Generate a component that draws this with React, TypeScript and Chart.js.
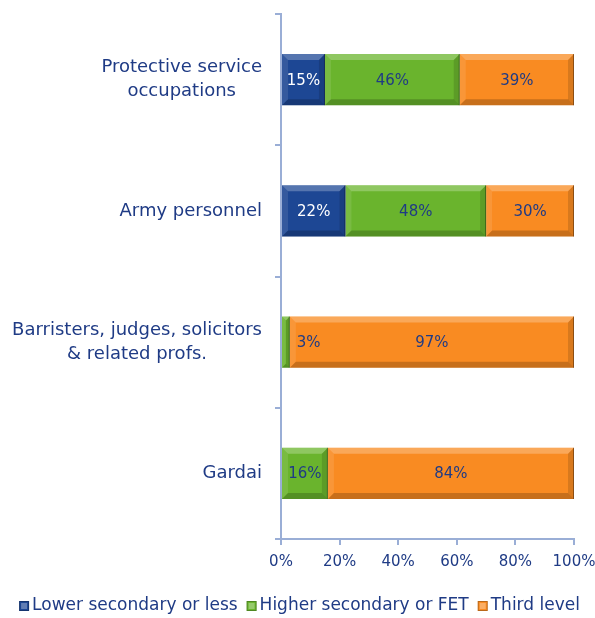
import React, { useEffect, useRef } from "react";
import { Chart, registerables } from "chart.js";

Chart.register(...registerables);

// ---- data ----
const categories: string[][] = [
  ["Protective service", "occupations"],
  ["Army personnel"],
  ["Barristers, judges, solicitors", "& related profs."],
  ["Gardai"],
];
const seriesNames = ["Lower secondary or less", "Higher secondary or FET", "Third level"];
const lowerSecondary = [15, 22, 0, 0];
const higherSecondary = [46, 48, 3, 16];
const thirdLevel = [39, 30, 97, 84];
const xTickValues = [0, 20, 40, 60, 80, 100];

// ---- style ----
const FONT = "'DejaVu Sans', sans-serif";
const NAVY = "#1F3B85";
const AXIS = "#9AAED6";
const COLORS = ["#1D4794", "#6AB42D", "#F98B22"];
const LABEL_COLORS = ["#FFFFFF", NAVY, NAVY];

function poly(ctx: CanvasRenderingContext2D, pts: number[][], fill: string) {
  ctx.beginPath();
  ctx.moveTo(pts[0][0], pts[0][1]);
  for (let i = 1; i < pts.length; i++) ctx.lineTo(pts[i][0], pts[i][1]);
  ctx.closePath();
  ctx.fillStyle = fill;
  ctx.fill();
}

const customPlugin = {
  id: "custom",
  afterDatasetsDraw(chart: any) {
    const ctx: CanvasRenderingContext2D = chart.ctx;
    // bevels
    chart.data.datasets.forEach((ds: any, di: number) => {
      const meta = chart.getDatasetMeta(di);
      meta.data.forEach((el: any) => {
        const { x, y, base, height } = el.getProps(["x", "y", "base", "height"], true);
        const l = Math.min(x, base), r = Math.max(x, base);
        const w = r - l;
        if (w < 0.5) return;
        const t = y - height / 2, b = y + height / 2;
        const bv = Math.min(6, w / 2, height / 2);
        ctx.save();
        poly(ctx, [[l, t], [r, t], [r - bv, t + bv], [l + bv, t + bv]], "rgba(255,255,255,0.25)");
        poly(ctx, [[l, t], [l + bv, t + bv], [l + bv, b - bv], [l, b]], "rgba(255,255,255,0.1)");
        poly(ctx, [[l, b], [l + bv, b - bv], [r - bv, b - bv], [r, b]], "rgba(0,0,0,0.2)");
        poly(ctx, [[r, t], [r, b], [r - bv, b - bv], [r - bv, t + bv]], "rgba(0,0,0,0.13)");
        ctx.fillStyle = "rgba(0,0,0,0.35)";
        ctx.fillRect(r - 1, t, 1, height);
        ctx.restore();
      });
    });
    // data labels
    ctx.save();
    ctx.font = `15px ${FONT}`;
    ctx.textBaseline = "middle";
    chart.data.datasets.forEach((ds: any, di: number) => {
      const meta = chart.getDatasetMeta(di);
      meta.data.forEach((el: any, i: number) => {
        const v = ds.data[i];
        if (!v) return;
        const { x, y, base } = el.getProps(["x", "y", "base"], true);
        const l = Math.min(x, base), r = Math.max(x, base);
        const txt = `${v}%`;
        const tw = ctx.measureText(txt).width;
        ctx.fillStyle = LABEL_COLORS[di];
        if (r - l < tw + 4) {
          ctx.textAlign = "left";
          ctx.fillStyle = NAVY;
          ctx.fillText(txt, r + 7, y + 1);
        } else {
          ctx.textAlign = "center";
          ctx.fillText(txt, (l + r) / 2, y + 1);
        }
      });
    });
    ctx.restore();
  },
  afterDraw(chart: any) {
    const ctx: CanvasRenderingContext2D = chart.ctx;
    const yScale = chart.scales.y;
    ctx.save();
    ctx.font = `18px ${FONT}`;
    ctx.fillStyle = NAVY;
    ctx.textAlign = "center";
    ctx.textBaseline = "middle";
    categories.forEach((lines, i) => {
      const cy = yScale.getPixelForValue(i);
      const maxW = Math.max(...lines.map((s) => ctx.measureText(s).width));
      const cx = chart.chartArea.left - 19 - maxW / 2;
      const lh = 24;
      lines.forEach((s, j) => ctx.fillText(s, cx, cy + (j - (lines.length - 1) / 2) * lh));
    });
    // legend
    ctx.font = `17px ${FONT}`;
    const gap = 3, box = 10, itemGap = 9;
    const widths = seriesNames.map((s) => box + gap + ctx.measureText(s).width);
    const total = widths.reduce((a, b) => a + b, 0) + itemGap * (widths.length - 1);
    let lx = (chart.width - total) / 2 + 2;
    const ly = 606;
    ctx.textAlign = "left";
    seriesNames.forEach((s, i) => {
      ctx.fillStyle = COLORS[i];
      ctx.fillRect(lx, ly - box / 2, box, box);
      ctx.fillStyle = "rgba(255,255,255,0.3)";
      ctx.fillRect(lx + 2, ly - box / 2 + 2, box - 4, box - 4);
      ctx.strokeStyle = "rgba(0,0,0,0.25)";
      ctx.lineWidth = 1;
      ctx.strokeRect(lx + 0.5, ly - box / 2 + 0.5, box - 1, box - 1);
      ctx.fillStyle = NAVY;
      ctx.fillText(s, lx + box + gap, ly);
      lx += widths[i] + itemGap;
    });
    ctx.restore();
  },
};

export default function App() {
  const ref = useRef<HTMLCanvasElement | null>(null);
  useEffect(() => {
    document.body.style.margin = "0";
    if (!ref.current) return;
    const chart = new Chart(ref.current, {
      type: "bar",
      data: {
        labels: categories.map((c) => c.join(" ")),
        datasets: [lowerSecondary, higherSecondary, thirdLevel].map((d, i) => ({
          label: seriesNames[i],
          data: d,
          backgroundColor: COLORS[i],
          borderWidth: 0,
          barPercentage: 0.39,
          categoryPercentage: 1,
        })),
      },
      options: {
        indexAxis: "y",
        responsive: false,
        animation: false,
        layout: { padding: { left: 275, top: 14, right: 21, bottom: 39 } },
        plugins: { legend: { display: false }, tooltip: { enabled: false } },
        scales: {
          x: {
            stacked: true,
            min: 0,
            max: 100,
            afterBuildTicks: (axis: any) => {
              axis.ticks = xTickValues.map((v) => ({ value: v }));
            },
            afterFit: (axis: any) => {
              axis.paddingLeft = 0;
              axis.paddingRight = 0;
            },
            ticks: {
              callback: (v: any) => `${v}%`,
              color: NAVY,
              font: { size: 15, family: FONT },
              padding: 8,
              maxRotation: 0,
            },
            grid: { drawOnChartArea: false, drawTicks: true, tickLength: 6, color: AXIS, lineWidth: 2 },
            border: { color: AXIS, width: 2 },
          },
          y: {
            stacked: true,
            offset: true,
            ticks: { display: false },
            grid: { offset: true, drawOnChartArea: false, drawTicks: true, tickLength: 6, color: AXIS, lineWidth: 2 },
            border: { color: AXIS, width: 2 },
          },
        },
      },
      plugins: [customPlugin],
    } as any);
    return () => chart.destroy();
  }, []);
  return (
    <div style={{ width: 595, height: 618 }}>
      <canvas ref={ref} width={595} height={618} />
    </div>
  );
}
